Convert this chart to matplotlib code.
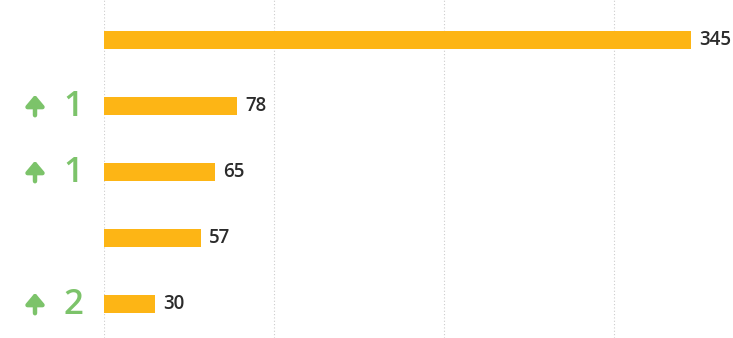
import matplotlib.pyplot as plt
from matplotlib.transforms import blended_transform_factory

# data
values = [345, 78, 65, 57, 30]
changes = [None, 1, 1, None, 2]

bar_color = "#fdb515"
green = "#7cc36a"

fig = plt.figure(figsize=(7.33, 3.38), dpi=100)
ax = fig.add_axes([104 / 733, 0, 1 - 104 / 733, 1])

pos = list(range(len(values)))
ax.barh(pos, values, height=0.28, color=bar_color, zorder=3)

ax.set_xlim(0, 370)
ax.set_ylim(4.515, -0.606)
ax.set_xticks([0, 100, 200, 300])
ax.grid(axis="x", color="#cccccc", linestyle=(0, (1, 2)), linewidth=0.8, zorder=0)
ax.set_yticks([])
ax.tick_params(axis="x", length=0, labelbottom=False)
for s in ax.spines.values():
    s.set_visible(False)

for i, v in enumerate(values):
    ax.annotate(str(v), (v, i), xytext=(6, 0), textcoords="offset points",
                va="center", ha="left", fontsize=13.5, fontweight="semibold",
                color="#2b2b2b", family=["Open Sans", "DejaVu Sans"])

trans = blended_transform_factory(fig.transFigure, ax.transData)
for i, c in enumerate(changes):
    if c is None:
        continue
    # up arrow
    ax.annotate("", xy=(35 / 733, i - 0.17), xycoords=trans,
                xytext=(35 / 733, i + 0.14), textcoords=trans,
                arrowprops=dict(arrowstyle="-|>,head_length=0.32,head_width=0.27",
                                mutation_scale=20, lw=3.2, color=green,
                                shrinkA=0, shrinkB=0))
    ax.text(73 / 733, i + 0.02, str(c), transform=trans, ha="center", va="center",
            fontsize=25, fontweight="semibold", color=green,
            family=["Open Sans", "DejaVu Sans"])

fig.savefig("out.png", dpi=100)
